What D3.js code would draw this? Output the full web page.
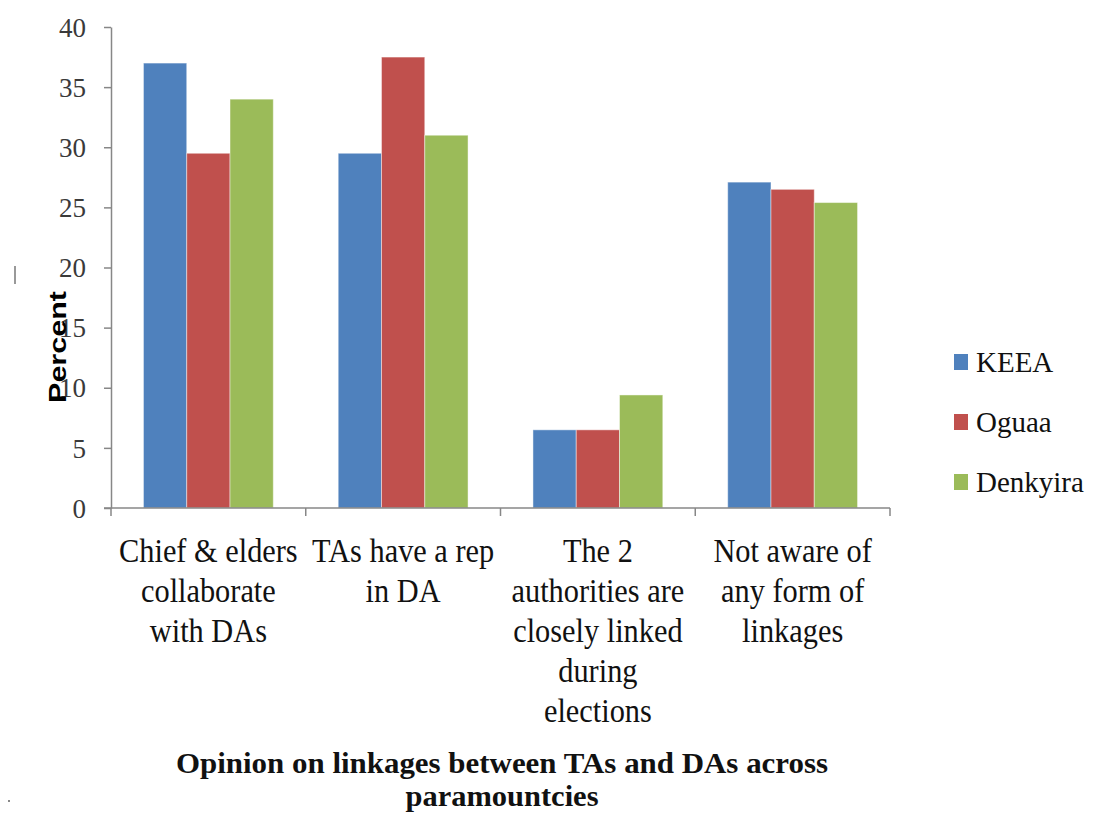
<!DOCTYPE html>
<html>
<head>
<meta charset="utf-8">
<script src="https://cdn.jsdelivr.net/npm/d3@7/dist/d3.min.js"></script>
<style>
  html, body { margin: 0; padding: 0; background: #fff; }
  svg { display: block; }
</style>
</head>
<body>
<div id="chart"></div>
<script>
// ---- data ----
const categories = [
  "Chief & elders\ncollaborate\nwith DAs",
  "TAs have a rep\nin DA",
  "The 2\nauthorities are\nclosely linked\nduring\nelections",
  "Not aware of\nany form of\nlinkages"
];
const series = ["KEEA", "Oguaa", "Denkyira"];
const keeaValues = [37.0, 29.5, 6.5, 27.1];
const oguaaValues = [29.5, 37.5, 6.5, 26.5];
const denkyiraValues = [34.0, 31.0, 9.4, 25.4];
const yTicks = [0, 5, 10, 15, 20, 25, 30, 35, 40];
const colors = ["#4F81BD", "#C0504D", "#9BBB59"];
const yTitle = "Percent";
const titleLines = ["Opinion on linkages between TAs and DAs across", "paramountcies"];

const valuesBySeries = [keeaValues, oguaaValues, denkyiraValues];
const table = categories.map((c, i) => ({
  category: c,
  values: series.map((s, j) => ({ series: s, value: valuesBySeries[j][i], color: colors[j] }))
}));

const serif = "'Liberation Serif', 'Times New Roman', serif";

// ---- layout ----
const W = 1101, H = 818;
const plotLeft = 111, plotRight = 890, plotTop = 27, plotBottom = 508;

const svg = d3.select("#chart").append("svg").attr("width", W).attr("height", H);

const x = d3.scaleBand().domain(categories).range([plotLeft, plotRight]).paddingInner(0).paddingOuter(0);
const xs = d3.scaleBand().domain(series).range([0, x.bandwidth()]).paddingInner(0).paddingOuter(0.75);
const y = d3.scaleLinear().domain([0, 40]).range([plotBottom, plotTop]);

// bars
const groups = svg.append("g").selectAll("g").data(table).join("g")
  .attr("transform", d => `translate(${x(d.category)},0)`);
groups.selectAll("rect").data(d => d.values).join("rect")
  .attr("x", d => xs(d.series))
  .attr("y", d => y(d.value))
  .attr("width", xs.bandwidth())
  .attr("height", d => y(0) - y(d.value))
  .attr("fill", d => d.color)
  .attr("stroke", "rgba(255,255,255,0.45)")
  .attr("stroke-width", 1);

// y axis
const yAxis = svg.append("g").attr("transform", `translate(${plotLeft},0)`)
  .call(d3.axisLeft(y).tickValues(yTicks).tickSize(7).tickPadding(18).tickSizeOuter(0));
yAxis.attr("font-family", null).attr("font-size", null);
yAxis.select(".domain").attr("stroke", "#878787").attr("stroke-width", 1.5);
yAxis.selectAll(".tick line").attr("stroke", "#878787").attr("stroke-width", 1.5);
yAxis.selectAll(".tick text")
  .style("font-family", serif)
  .style("font-size", "27px").attr("fill", "#3a3a3a").attr("dy", "0.34em");

// x axis
const xAxisG = svg.append("g").attr("transform", `translate(0,${plotBottom})`);
xAxisG.append("line").attr("x1", plotLeft - 7).attr("x2", plotRight).attr("y1", 0).attr("y2", 0)
  .attr("stroke", "#878787").attr("stroke-width", 1.5);
const bounds = categories.map(c => x(c)).concat([x(categories[categories.length - 1]) + x.bandwidth()]);
xAxisG.selectAll("line.tk").data(bounds).join("line").attr("class", "tk")
  .attr("x1", d => d).attr("x2", d => d).attr("y1", 0).attr("y2", 8)
  .attr("stroke", "#878787").attr("stroke-width", 1.5);

// category labels (slightly condensed, as in the reference)
const catG = svg.append("g");
categories.forEach(c => {
  const lines = c.split("\n");
  const t = catG.append("text")
    .attr("transform", `translate(${x(c) + x.bandwidth() / 2},0) scale(0.92,1)`)
    .attr("text-anchor", "middle")
    .style("font-family", serif)
    .style("font-size", "33px").attr("fill", "#111");
  lines.forEach((ln, i) => {
    t.append("tspan").attr("x", 0).attr("y", 562 + i * 40).text(ln);
  });
});

// y title
svg.append("text")
  .attr("transform", "translate(66,347) rotate(-90)")
  .attr("text-anchor", "middle")
  .style("font-family", "'Liberation Sans', Arial, sans-serif")
  .style("font-weight", "bold").style("font-size", "23px")
  .attr("textLength", 112).attr("lengthAdjust", "spacingAndGlyphs")
  .attr("fill", "#000").text(yTitle);

// legend
const leg = svg.append("g");
series.forEach((s, i) => {
  const cy = 362 + i * 60;
  leg.append("rect").attr("x", 954).attr("y", cy - 8).attr("width", 14).attr("height", 16).attr("fill", colors[i]);
  leg.append("text").attr("x", 976).attr("y", cy + 10)
    .style("font-family", serif)
    .style("font-size", "29px").attr("fill", "#111").text(s);
});

// chart title
svg.append("text").attr("x", 502).attr("y", 773).attr("text-anchor", "middle")
  .style("font-family", serif)
  .style("font-weight", "bold").style("font-size", "30px")
  .attr("textLength", 652).attr("lengthAdjust", "spacingAndGlyphs")
  .attr("fill", "#111").text(titleLines[0]);
svg.append("text").attr("x", 502).attr("y", 806).attr("text-anchor", "middle")
  .style("font-family", serif)
  .style("font-weight", "bold").style("font-size", "30px")
  .attr("textLength", 193).attr("lengthAdjust", "spacingAndGlyphs")
  .attr("fill", "#111").text(titleLines[1]);

// small stray marks present in the reference
svg.append("line").attr("x1", 15).attr("x2", 15).attr("y1", 266).attr("y2", 284)
  .attr("stroke", "#555").attr("stroke-width", 1.2);
svg.append("rect").attr("x", 8).attr("y", 800).attr("width", 2).attr("height", 2).attr("fill", "#888");
</script>
</body>
</html>
